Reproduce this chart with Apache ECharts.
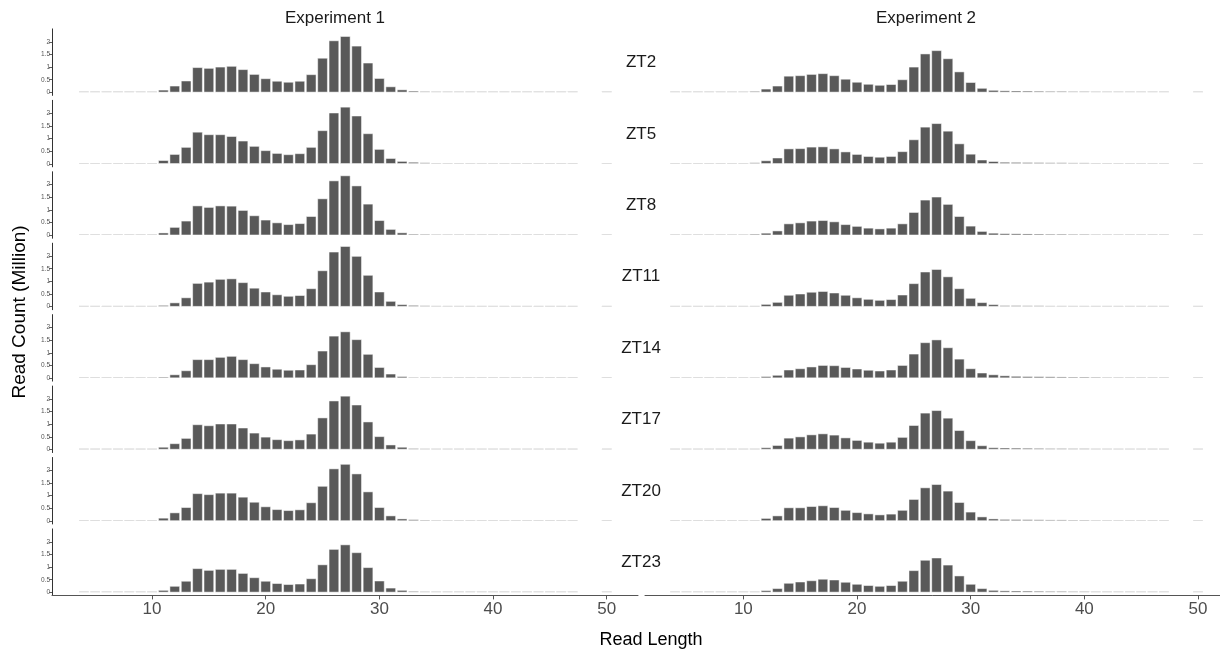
<!DOCTYPE html>
<html>
<head>
<meta charset="utf-8">
<title>Read length distribution</title>
<script src="https://cdn.jsdelivr.net/npm/echarts@6/dist/echarts.min.js"></script>
<style>
  html, body { margin: 0; padding: 0; background: #ffffff; }
  #chart { width: 1220px; height: 651px; }
</style>
</head>
<body>
<div id="chart"></div>
<script>
// Read lengths (nt) that carry a bar; 48 and 49 have no reads.
const readLengths = [4, 5, 6, 7, 8, 9, 10, 11, 12, 13, 14, 15, 16, 17, 18, 19, 20,
  21, 22, 23, 24, 25, 26, 27, 28, 29, 30, 31, 32, 33, 34, 35, 36, 37, 38, 39, 40,
  41, 42, 43, 44, 45, 46, 47, 50];

const timePoints = ['ZT2', 'ZT5', 'ZT8', 'ZT11', 'ZT14', 'ZT17', 'ZT20', 'ZT23'];
const experimentNames = ['Experiment 1', 'Experiment 2'];
const xTickValues = [10, 20, 30, 40, 50];
const yTickValues = [0, 0.5, 1, 1.5, 2];

// Read counts in millions, one value per entry of readLengths.
const exp1ZT2 = [0.002, 0.003, 0.004, 0.006, 0.01, 0.02, 0.04,
  0.10, 0.26, 0.46, 0.99, 0.96, 1.01, 1.04, 0.91, 0.72, 0.55, 0.45, 0.41, 0.45, 0.71, 1.36, 2.05, 2.22, 1.84, 1.17, 0.56, 0.23, 0.11, 0.06,
  0.045, 0.04, 0.035, 0.035, 0.03, 0.03, 0.025, 0.025, 0.02, 0.02, 0.02, 0.015, 0.015, 0.01, 0.02];
const exp1ZT5 = [0.002, 0.003, 0.004, 0.006, 0.01, 0.02, 0.03,
  0.14, 0.38, 0.66, 1.26, 1.16, 1.16, 1.09, 0.91, 0.70, 0.53, 0.42, 0.37, 0.41, 0.66, 1.32, 2.02, 2.25, 1.90, 1.20, 0.58, 0.22, 0.105, 0.07,
  0.05, 0.04, 0.035, 0.035, 0.03, 0.03, 0.025, 0.025, 0.02, 0.02, 0.02, 0.015, 0.015, 0.01, 0.02];
const exp1ZT8 = [0.002, 0.003, 0.004, 0.006, 0.01, 0.02, 0.03,
  0.10, 0.32, 0.57, 1.17, 1.11, 1.17, 1.16, 0.99, 0.78, 0.61, 0.50, 0.43, 0.47, 0.75, 1.45, 2.16, 2.36, 1.96, 1.24, 0.59, 0.24, 0.105, 0.05,
  0.045, 0.04, 0.035, 0.035, 0.03, 0.03, 0.025, 0.025, 0.02, 0.02, 0.02, 0.015, 0.015, 0.01, 0.02];
const exp1ZT11 = [0.002, 0.003, 0.004, 0.006, 0.008, 0.015, 0.03,
  0.06, 0.16, 0.36, 0.93, 0.98, 1.09, 1.11, 0.96, 0.74, 0.59, 0.48, 0.42, 0.45, 0.72, 1.43, 2.17, 2.39, 2.00, 1.25, 0.59, 0.22, 0.09, 0.06,
  0.045, 0.04, 0.035, 0.035, 0.03, 0.03, 0.025, 0.025, 0.02, 0.02, 0.02, 0.015, 0.015, 0.01, 0.02];
const exp1ZT14 = [0.002, 0.003, 0.004, 0.006, 0.008, 0.012, 0.025,
  0.05, 0.14, 0.30, 0.74, 0.74, 0.83, 0.87, 0.74, 0.58, 0.45, 0.36, 0.32, 0.33, 0.54, 1.08, 1.67, 1.84, 1.53, 0.95, 0.43, 0.17, 0.07, 0.04,
  0.035, 0.03, 0.03, 0.03, 0.025, 0.025, 0.02, 0.02, 0.02, 0.015, 0.015, 0.015, 0.01, 0.01, 0.015];
const exp1ZT17 = [0.002, 0.003, 0.004, 0.006, 0.01, 0.02, 0.03,
  0.10, 0.24, 0.45, 0.99, 0.95, 1.02, 1.02, 0.86, 0.66, 0.50, 0.40, 0.36, 0.39, 0.62, 1.26, 1.93, 2.12, 1.77, 1.10, 0.52, 0.19, 0.10, 0.05,
  0.04, 0.035, 0.035, 0.03, 0.03, 0.025, 0.025, 0.02, 0.02, 0.02, 0.015, 0.015, 0.01, 0.01, 0.015];
const exp1ZT20 = [0.002, 0.003, 0.004, 0.006, 0.01, 0.02, 0.04,
  0.12, 0.33, 0.54, 1.09, 1.05, 1.11, 1.11, 0.95, 0.75, 0.57, 0.46, 0.42, 0.45, 0.73, 1.38, 2.07, 2.25, 1.87, 1.16, 0.54, 0.21, 0.09, 0.06,
  0.045, 0.04, 0.035, 0.035, 0.03, 0.03, 0.025, 0.025, 0.02, 0.02, 0.02, 0.015, 0.015, 0.01, 0.02];
const exp1ZT23 = [0.002, 0.003, 0.004, 0.006, 0.01, 0.02, 0.035,
  0.09, 0.25, 0.45, 0.95, 0.88, 0.92, 0.92, 0.76, 0.59, 0.45, 0.36, 0.32, 0.34, 0.55, 1.10, 1.71, 1.89, 1.58, 0.99, 0.46, 0.18, 0.09, 0.05,
  0.04, 0.035, 0.035, 0.03, 0.03, 0.025, 0.025, 0.02, 0.02, 0.02, 0.015, 0.015, 0.01, 0.01, 0.015];

const exp2ZT2 = [0.002, 0.003, 0.004, 0.006, 0.008, 0.012, 0.02,
  0.05, 0.14, 0.26, 0.65, 0.67, 0.72, 0.75, 0.67, 0.53, 0.41, 0.33, 0.29, 0.32, 0.51, 1.01, 1.53, 1.66, 1.34, 0.82, 0.40, 0.17, 0.09, 0.07,
  0.065, 0.06, 0.055, 0.05, 0.05, 0.045, 0.045, 0.04, 0.04, 0.035, 0.035, 0.03, 0.025, 0.02, 0.035];
const exp2ZT5 = [0.002, 0.003, 0.004, 0.006, 0.008, 0.012, 0.02,
  0.05, 0.13, 0.24, 0.60, 0.61, 0.67, 0.68, 0.60, 0.48, 0.38, 0.30, 0.27, 0.30, 0.49, 0.96, 1.46, 1.60, 1.30, 0.80, 0.39, 0.16, 0.10, 0.07,
  0.065, 0.06, 0.055, 0.05, 0.05, 0.045, 0.045, 0.04, 0.04, 0.035, 0.035, 0.03, 0.025, 0.02, 0.035];
const exp2ZT8 = [0.002, 0.003, 0.004, 0.006, 0.008, 0.012, 0.025,
  0.05, 0.09, 0.18, 0.46, 0.50, 0.57, 0.59, 0.54, 0.43, 0.36, 0.29, 0.26, 0.29, 0.46, 0.91, 1.40, 1.52, 1.23, 0.75, 0.37, 0.16, 0.09, 0.07,
  0.065, 0.06, 0.055, 0.05, 0.05, 0.045, 0.045, 0.04, 0.04, 0.035, 0.035, 0.03, 0.025, 0.02, 0.035];
const exp2ZT11 = [0.002, 0.003, 0.004, 0.006, 0.008, 0.012, 0.02,
  0.03, 0.10, 0.18, 0.46, 0.51, 0.58, 0.61, 0.55, 0.46, 0.36, 0.30, 0.26, 0.29, 0.47, 0.92, 1.38, 1.48, 1.19, 0.72, 0.34, 0.17, 0.09, 0.05,
  0.05, 0.045, 0.045, 0.04, 0.04, 0.035, 0.035, 0.03, 0.03, 0.03, 0.025, 0.025, 0.02, 0.015, 0.03];
const exp2ZT14 = [0.002, 0.003, 0.004, 0.006, 0.008, 0.012, 0.02,
  0.03, 0.07, 0.12, 0.33, 0.38, 0.45, 0.51, 0.50, 0.43, 0.37, 0.32, 0.29, 0.33, 0.51, 0.96, 1.41, 1.52, 1.21, 0.76, 0.38, 0.21, 0.14, 0.10,
  0.08, 0.07, 0.065, 0.06, 0.055, 0.05, 0.05, 0.045, 0.04, 0.04, 0.035, 0.03, 0.025, 0.02, 0.035];
const exp2ZT17 = [0.002, 0.003, 0.004, 0.006, 0.008, 0.012, 0.02,
  0.04, 0.08, 0.17, 0.46, 0.51, 0.59, 0.63, 0.58, 0.47, 0.37, 0.30, 0.26, 0.30, 0.49, 0.96, 1.45, 1.55, 1.25, 0.76, 0.36, 0.16, 0.08, 0.07,
  0.065, 0.06, 0.055, 0.05, 0.05, 0.045, 0.045, 0.04, 0.04, 0.035, 0.035, 0.03, 0.025, 0.02, 0.035];
const exp2ZT20 = [0.002, 0.003, 0.004, 0.006, 0.008, 0.012, 0.02,
  0.04, 0.11, 0.21, 0.53, 0.53, 0.58, 0.61, 0.54, 0.43, 0.34, 0.29, 0.25, 0.28, 0.43, 0.86, 1.32, 1.45, 1.19, 0.74, 0.36, 0.17, 0.09, 0.07,
  0.065, 0.06, 0.055, 0.05, 0.05, 0.045, 0.045, 0.04, 0.04, 0.035, 0.035, 0.03, 0.025, 0.02, 0.035];
const exp2ZT23 = [0.002, 0.003, 0.004, 0.006, 0.008, 0.012, 0.02,
  0.03, 0.08, 0.16, 0.37, 0.42, 0.47, 0.53, 0.50, 0.41, 0.33, 0.28, 0.25, 0.28, 0.45, 0.87, 1.28, 1.37, 1.09, 0.66, 0.33, 0.16, 0.09, 0.07,
  0.065, 0.06, 0.055, 0.05, 0.05, 0.045, 0.045, 0.04, 0.04, 0.035, 0.035, 0.03, 0.025, 0.02, 0.035];

const experiment1 = [exp1ZT2, exp1ZT5, exp1ZT8, exp1ZT11, exp1ZT14, exp1ZT17, exp1ZT20, exp1ZT23];
const experiment2 = [exp2ZT2, exp2ZT5, exp2ZT8, exp2ZT11, exp2ZT14, exp2ZT17, exp2ZT20, exp2ZT23];
const experiments = [experiment1, experiment2];

// ---- layout of the facet grid ----
const FONT = '"Liberation Sans", Arial, Helvetica, sans-serif';
const ROW_TOP = 28.9, ROW_PITCH = 71.43, ROW_HEIGHT = 66.5;
const columns = [
  { left: 52, width: 586, min: 1.2, max: 52.75, titleX: 335 },
  { left: 645, width: 586, min: 1.35, max: 52.9, titleX: 926 }
];
const Y_MIN = -0.12, Y_MAX = 2.51;
const BAR_FILL = '#595959';

const grids = [], xAxes = [], yAxes = [], series = [];

columns.forEach((col, c) => {
  const barWidth = 0.9 * col.width / (col.max - col.min);
  timePoints.forEach((tp, r) => {
    const idx = grids.length;
    const isBottom = r === timePoints.length - 1;
    grids.push({
      left: col.left, top: ROW_TOP + r * ROW_PITCH,
      width: col.width, height: ROW_HEIGHT,
      outerBoundsMode: 'none', containLabel: false
    });
    xAxes.push({
      type: 'value', gridIndex: idx, min: col.min, max: col.max,
      splitLine: { show: false },
      axisLine: { show: isBottom, onZero: false, lineStyle: { color: '#555555', width: 1 } },
      axisTick: { show: isBottom, length: 4, customValues: xTickValues, lineStyle: { color: '#555555', width: 1 } },
      axisLabel: {
        show: isBottom, customValues: xTickValues, margin: 5,
        color: '#4d4d4d', fontSize: 17, fontFamily: FONT
      }
    });
    yAxes.push({
      type: 'value', gridIndex: idx, min: Y_MIN, max: Y_MAX,
      splitLine: { show: false },
      axisLine: { show: c === 0, onZero: false, lineStyle: { color: '#333333', width: 1 } },
      axisTick: { show: c === 0, length: 3, customValues: yTickValues, lineStyle: { color: '#333333', width: 0.8 } },
      axisLabel: {
        show: c === 0, customValues: yTickValues, margin: 2,
        color: '#555555', fontSize: 6.5, fontFamily: FONT
      }
    });
    const values = experiments[c][r];
    series.push({
      type: 'bar', name: experimentNames[c] + ' ' + tp,
      xAxisIndex: idx, yAxisIndex: idx,
      barWidth: barWidth,
      barMinHeight: 1,
      data: readLengths.map((len, j) => [len, values[j]]),
      itemStyle: { color: BAR_FILL, borderColor: '#ffffff', borderWidth: 0.5 },
      silent: true
    });
  });
});

// Facet strip texts, axis titles
const graphics = [];
columns.forEach((col, c) => {
  graphics.push({
    type: 'text', x: col.titleX, y: 18,
    style: { text: experimentNames[c], font: '17px ' + FONT, fill: '#1a1a1a', textAlign: 'center', textVerticalAlign: 'middle' }
  });
});
timePoints.forEach((tp, r) => {
  graphics.push({
    type: 'text', x: 641, y: ROW_TOP + r * ROW_PITCH + 33.5,
    style: { text: tp, font: '17px ' + FONT, fill: '#1a1a1a', textAlign: 'center', textVerticalAlign: 'middle' }
  });
});
graphics.push({
  type: 'text', x: 651, y: 640,
  style: { text: 'Read Length', font: '18px ' + FONT, fill: '#000000', textAlign: 'center', textVerticalAlign: 'middle' }
});
graphics.push({
  type: 'text', x: 20, y: 312, rotation: Math.PI / 2,
  style: { text: 'Read Count (Million)', font: '19px ' + FONT, fill: '#000000', textAlign: 'center', textVerticalAlign: 'middle' }
});

const chart = echarts.init(document.getElementById('chart'), null, { renderer: 'canvas' });
chart.setOption({
  backgroundColor: '#ffffff',
  animation: false,
  grid: grids,
  xAxis: xAxes,
  yAxis: yAxes,
  series: series,
  graphic: graphics
});
</script>
</body>
</html>
